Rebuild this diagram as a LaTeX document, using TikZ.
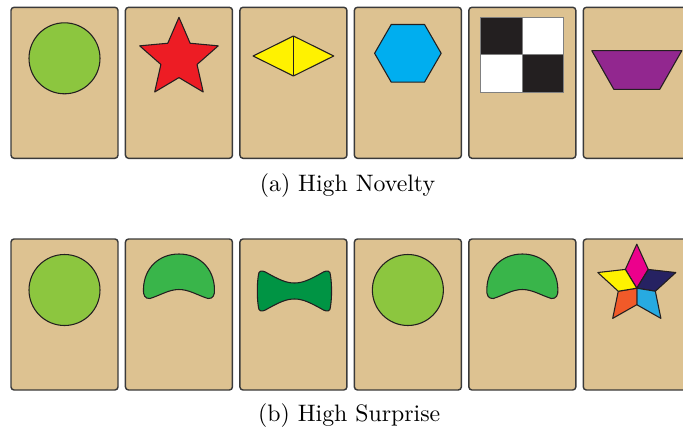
\documentclass[tikz,border=0pt]{standalone}
\usepackage{tikz}
\usetikzlibrary{calc}
\definecolor{cardtan}{RGB}{221,194,145}
\definecolor{cardline}{RGB}{58,58,58}
\definecolor{ink}{RGB}{35,31,32}
\definecolor{leaf}{RGB}{140,198,63}
\definecolor{starred}{RGB}{237,28,36}
\definecolor{lemon}{RGB}{255,242,0}
\definecolor{sky}{RGB}{0,174,239}
\definecolor{plum}{RGB}{146,39,143}
\definecolor{moss}{RGB}{57,181,74}
\definecolor{pine}{RGB}{0,148,68}
\definecolor{pink}{RGB}{236,0,140}
\definecolor{navy}{RGB}{38,34,98}
\definecolor{rust}{RGB}{241,90,41}
\definecolor{azure}{RGB}{39,170,225}

\begin{document}
\begin{tikzpicture}[x=0.42pt,y=-0.42pt,
  card/.style={fill=cardtan, draw=cardline, line width=0.6pt, rounded corners=1.3pt},
  piece/.style={draw=ink, line width=0.45pt, line join=round},
  caption/.style={font=\normalsize, inner sep=0pt, anchor=base}]

%---------------------------------------
% Sizes
%---------------------------------------
\def\pitch{114.46}
\def\cardW{107}
\def\cardH{151}
\def\rowA{7.3}
\def\rowB{239}

\useasboundingbox (0,0) rectangle (683,434);
\clip (0,0) rectangle (683,434);

% Cards, both rows
\foreach \i in {1,...,6} {
  \draw[card] ({11+\pitch*(\i-1)},\rowA) rectangle ++(\cardW,\cardH);
  \draw[card] ({11+\pitch*(\i-1)},\rowB) rectangle ++(\cardW,\cardH);
  \coordinate (a\i) at ({64.5+\pitch*(\i-1)},\rowA);
  \coordinate (b\i) at ({64.5+\pitch*(\i-1)},\rowB);
}

%====================================================
% TOP ROW: High novelty
%====================================================
% circle
\begin{scope}[shift={(a1)}]
  \draw[piece, fill=leaf] (0,51) circle[radius=35.5];
\end{scope}

% star
\begin{scope}[shift={($(a2)+(0,51.3)$)}]
  \draw[piece, fill=starred] (-90:41.3)
    \foreach \k in {1,...,5} { -- ({-126+72*\k}:19) -- ({-90+72*\k}:41.3) } -- cycle;
\end{scope}

% diamond
\begin{scope}[shift={($(a3)+(0,48.7)$)}]
  \draw[piece, fill=lemon] (-40.3,0) -- (0,-20) -- (40.3,0) -- (0,20) -- cycle;
  \draw[piece] (0,-20) -- (0,20);
\end{scope}

% hexagon
\begin{scope}[shift={($(a4)+(0,46)$)}]
  \draw[piece, fill=sky] (0:33.3)
    \foreach \k in {1,...,5} { -- ({60*\k}:33.3) } -- cycle;
\end{scope}

% checkerboard
\begin{scope}[shift={(a5)}]
  \fill[ink] (-41.5,10) rectangle (0,47.5);
  \fill[ink] (0,47.5) rectangle (41.5,85);
  \draw[gray, fill=white, line width=0.4pt] (0,10) rectangle (41.5,47.5);
  \draw[gray, fill=white, line width=0.4pt] (-41.5,47.5) rectangle (0,85);
  \draw[gray, line width=0.4pt] (-41.5,10) rectangle (41.5,85);
\end{scope}

% trapezoid
\begin{scope}[shift={(a6)}]
  \draw[piece, fill=plum] (-45,43.4) -- (45,43.4) -- (23,82) -- (-23,82) -- cycle;
\end{scope}

\node[caption] (capA) at (347.5,191.7) {(a) High Novelty};

%====================================================
% BOTTOM ROW: High surprise
%====================================================
\foreach \c in {b1,b4} {
  \draw[piece, fill=leaf] ($(\c)+(0,51)$) circle[radius=35.5];
}

% arches
\foreach \c in {b2,b5} {
  \begin{scope}[shift={(\c)}]
    \draw[piece, fill=moss] (-29,59.5) .. controls (-34,60) and (-36,56) .. (-35.5,50)
      .. controls (-35,29) and (-20,15) .. (0,15)
      .. controls (20,15) and (35,29) .. (35.5,50)
      .. controls (36,56) and (34,60) .. (29,59.5)
      .. controls (18,56) and (10,50.5) .. (0,50.5)
      .. controls (-10,50.5) and (-18,56) .. (-29,59.5) -- cycle;
  \end{scope}
}

% bow tie
\begin{scope}[shift={($(b3)+(1,0)$)}]
  \draw[piece, fill=pine] (-36,36) .. controls (-36,32) and (-33,31) .. (-29,33)
    .. controls (-15,41) and (-8,44) .. (0,44)
    .. controls (8,44) and (15,41) .. (29,33)
    .. controls (33,31) and (36,32) .. (36,36)
    .. controls (37.5,45) and (37.5,59) .. (36,68)
    .. controls (36,72) and (33,73) .. (29,71)
    .. controls (15,63) and (8,60) .. (0,60)
    .. controls (-8,60) and (-15,63) .. (-29,71)
    .. controls (-33,73) and (-36,72) .. (-36,68)
    .. controls (-37.5,59) and (-37.5,45) .. (-36,36) -- cycle;
\end{scope}

% star of five colours
\begin{scope}[shift={($(b6)+(0,46.2)$)}]
  \foreach \k/\col in {0/pink,1/navy,2/azure,3/rust,4/lemon}
    \draw[piece, fill=\col] (0,3) -- ({-126+72*\k}:19.5) -- ({-90+72*\k}:41)
      -- ({-54+72*\k}:19.5) -- cycle;
\end{scope}

\node[caption] (capB) at (349.2,421) {(b) High Surprise};

\end{tikzpicture}
\end{document}
